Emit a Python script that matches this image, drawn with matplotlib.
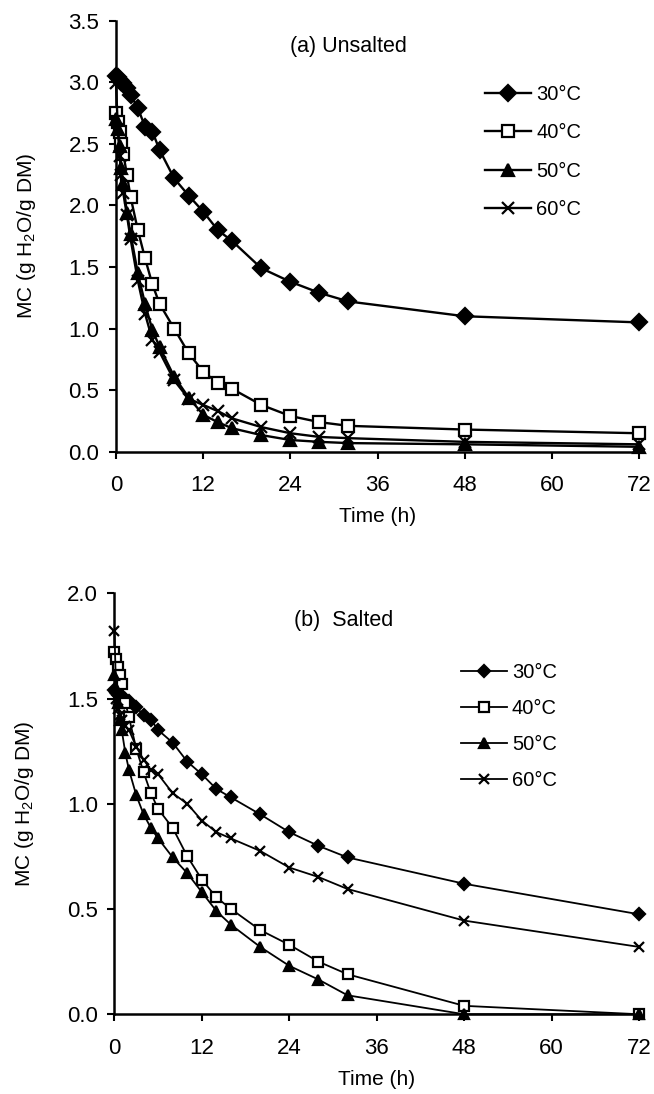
import numpy as np
import matplotlib
matplotlib.use("Agg")
import matplotlib.pyplot as plt

plt.rcParams['font.family'] = ['Liberation Sans', 'DejaVu Sans']

# sampling times (h)
time_h = [0, 0.25, 0.5, 0.75, 1, 1.5, 2, 3, 4, 5, 6, 8, 10, 12, 14, 16, 20, 24, 28, 32, 48, 72]
labels = ['30°C', '40°C', '50°C', '60°C']

# (a) unsalted, MC in g H2O / g DM
unsalted_30 = [3.05, 3.04, 3.02, 3.00, 2.99, 2.95, 2.90, 2.79, 2.64, 2.60, 2.45, 2.22, 2.08, 1.95, 1.80, 1.71, 1.49, 1.38, 1.29, 1.22, 1.10, 1.05]
unsalted_40 = [2.75, 2.68, 2.60, 2.50, 2.42, 2.25, 2.07, 1.80, 1.57, 1.36, 1.20, 1.00, 0.80, 0.65, 0.56, 0.51, 0.38, 0.29, 0.24, 0.21, 0.18, 0.15]
unsalted_50 = [2.70, 2.62, 2.48, 2.30, 2.17, 1.94, 1.77, 1.45, 1.20, 0.99, 0.85, 0.61, 0.44, 0.30, 0.24, 0.19, 0.135, 0.095, 0.08, 0.07, 0.06, 0.04]
unsalted_60 = [2.99, 2.62, 2.40, 2.25, 2.10, 1.92, 1.73, 1.39, 1.12, 0.91, 0.81, 0.58, 0.43, 0.38, 0.33, 0.27, 0.20, 0.15, 0.12, 0.11, 0.08, 0.06]

# (b) salted
salted_30 = [1.54, 1.53, 1.52, 1.515, 1.51, 1.50, 1.49, 1.46, 1.42, 1.40, 1.35, 1.29, 1.20, 1.14, 1.07, 1.03, 0.95, 0.865, 0.80, 0.745, 0.62, 0.475]
salted_40 = [1.72, 1.69, 1.65, 1.61, 1.57, 1.48, 1.41, 1.26, 1.15, 1.05, 0.975, 0.885, 0.75, 0.64, 0.555, 0.50, 0.40, 0.33, 0.25, 0.19, 0.04, 0.0]
salted_50 = [1.61, 1.55, 1.48, 1.40, 1.35, 1.24, 1.16, 1.04, 0.95, 0.885, 0.835, 0.745, 0.67, 0.58, 0.49, 0.425, 0.32, 0.23, 0.165, 0.09, 0.0, 0.0]
salted_60 = [1.82, 1.50, 1.45, 1.42, 1.40, 1.37, 1.35, 1.27, 1.21, 1.16, 1.14, 1.05, 1.00, 0.92, 0.865, 0.835, 0.776, 0.697, 0.652, 0.595, 0.445, 0.32]

x_ticks = [0, 12, 24, 36, 48, 60, 72]

fig = plt.figure(figsize=(6.54, 10.94), dpi=100)
ax1 = fig.add_axes([0.1774, 0.5871, 0.7997, 0.3940])
ax2 = fig.add_axes([0.1750, 0.0729, 0.8020, 0.3848])


def draw_panel(ax, series, ylim, yticks, ms, lw, title, title_xy, leg_anchor, leg_spacing):
    styles = [
        dict(marker='D', mfc='black', ms=ms * 0.9),
        dict(marker='s', mfc='white', ms=ms),
        dict(marker='^', mfc='black', ms=ms * 1.05),
        dict(marker='x', mfc='black', ms=ms * 1.05),
    ]
    for y, lab, st in zip(series, labels, styles):
        ax.plot(time_h, y, color='black', lw=lw, mec='black', mew=1.6,
                label=lab, clip_on=False, zorder=3, **st)
    ax.set_xlim(0, 72)
    ax.set_ylim(*ylim)
    ax.set_xticks(x_ticks)
    ax.set_yticks(yticks)
    ax.set_yticklabels([f'{v:.1f}' for v in yticks])
    for s in ['top', 'right']:
        ax.spines[s].set_visible(False)
    for s in ['left', 'bottom']:
        ax.spines[s].set_linewidth(1.8)
    ax.tick_params(axis='both', direction='out', length=5, width=1.5, labelsize=16)
    ax.tick_params(axis='x', pad=12)
    ax.tick_params(axis='y', pad=7)
    ax.set_xlabel('Time (h)', fontsize=15, labelpad=8)
    ax.set_ylabel('MC (g H$\\mathregular{_2}$O/g DM)', fontsize=15, labelpad=22)
    ax.text(title_xy[0], title_xy[1], title, fontsize=15.5, ha='center', va='center')
    ax.legend(loc='upper left', bbox_to_anchor=leg_anchor, frameon=False,
              fontsize=14.5, handlelength=2.3, handletextpad=0.25,
              labelspacing=leg_spacing, borderpad=0, borderaxespad=0)


draw_panel(ax1, [unsalted_30, unsalted_40, unsalted_50, unsalted_60],
           (0, 3.5), np.arange(0, 3.51, 0.5), 8.5, 1.7,
           '(a) Unsalted', (32, 3.29), (0.705, 0.85), 0.95)
draw_panel(ax2, [salted_30, salted_40, salted_50, salted_60],
           (0, 2.0), np.arange(0, 2.01, 0.5), 7, 1.3,
           '(b)  Salted', (31.5, 1.87), (0.66, 0.835), 0.85)

fig.savefig('out.png', dpi=100)
